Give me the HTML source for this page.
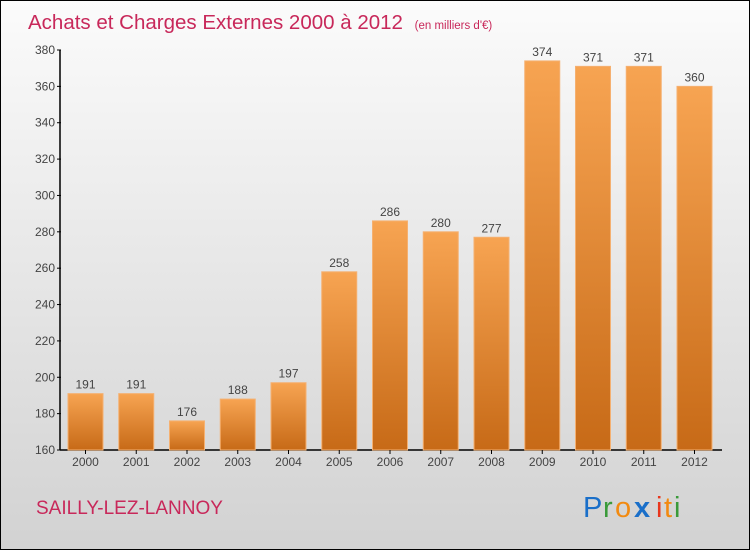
<!DOCTYPE html>
<html><head><meta charset="utf-8"><style>
html,body{margin:0;padding:0}
body{width:750px;height:550px;overflow:hidden;font-family:"Liberation Sans",sans-serif}
#wrap{position:absolute;left:0;top:0;width:748px;height:548px;border:1px solid #000;background:linear-gradient(#fbfbfb,#d2d2d2)}
</style></head><body>
<div id="wrap">
<svg width="748" height="548" viewBox="1 1 748 548" style="position:absolute;left:0;top:0">
<defs><linearGradient id="bg" x1="0" y1="0" x2="0" y2="1"><stop offset="0" stop-color="#f7a452"/><stop offset="1" stop-color="#c76a17"/></linearGradient></defs>
<text x="28" y="29" font-size="20.5" fill="#c8285a">Achats et Charges Externes 2000 à 2012 <tspan font-size="11.5" dx="6">(en milliers d'€)</tspan></text>
<g id="yaxis"></g>
<g id="bars"></g>
<text x="36" y="514" font-size="19" fill="#c8285a">SAILLY-LEZ-LANNOY</text>
<g font-size="29" font-family="'Liberation Sans',sans-serif">
<text x="583" y="517" fill="#1a6fc9">P</text><text x="603" y="517" fill="#3a9a3a">r</text><text x="615" y="517" fill="#f28a10">o</text><text x="634" y="517" fill="#1a6fc9" font-weight="bold">x</text><text x="656" y="517" fill="#e8361c">i</text><text x="664" y="517" fill="#f28a10">t</text><text x="674" y="517" fill="#3a9a3a">i</text>
</g>
</svg>
</div>
<script>
const years=["2000","2001","2002","2003","2004","2005","2006","2007","2008","2009","2010","2011","2012"];
const values=[191,191,176,188,197,258,286,280,277,374,371,371,360];
const yTicks=[160,180,200,220,240,260,280,300,320,340,360,380];
const NS="http://www.w3.org/2000/svg";
const y=v=>450-(v-160)*400/220;
const x=i=>85.5+i*50.75;
function mk(t,a,p){const e=document.createElementNS(NS,t);for(const k in a)e.setAttribute(k,a[k]);p.appendChild(e);return e;}
const ya=document.getElementById('yaxis'),bg=document.getElementById('bars');
let l=mk('line',{x1:60,y1:50,x2:60,y2:450,stroke:'#000','stroke-width':1.5},ya);
l=mk('line',{x1:60,y1:450,x2:722,y2:450,stroke:'#000','stroke-width':1.5},ya);
yTicks.forEach(v=>{
 const t=mk('line',{x1:57,y1:y(v),x2:61,y2:y(v),stroke:'#000'},ya);
 
 
 const tx=mk('text',{x:55,y:y(v)+4,'text-anchor':'end','font-size':12,fill:'#444'},ya);
 tx.textContent=v;
 
 
});
values.forEach((v,i)=>{
 const r=mk('rect',{x:x(i)-17.5,y:y(v),width:35,height:450-y(v),fill:'url(#bg)',stroke:'#f5b070','stroke-width':1},bg);
 
 
 const vl=mk('text',{x:x(i),y:y(v)-5,'text-anchor':'middle','font-size':12,fill:'#444'},bg);
 vl.textContent=v;
 
 
 const tk=mk('line',{x1:x(i),y1:450,x2:x(i),y2:454,stroke:'#000'},bg);
 
 
 const xl=mk('text',{x:x(i),y:466,'text-anchor':'middle','font-size':12,fill:'#444'},bg);
 xl.textContent=years[i];
 
 
});
</script>
</body></html>
